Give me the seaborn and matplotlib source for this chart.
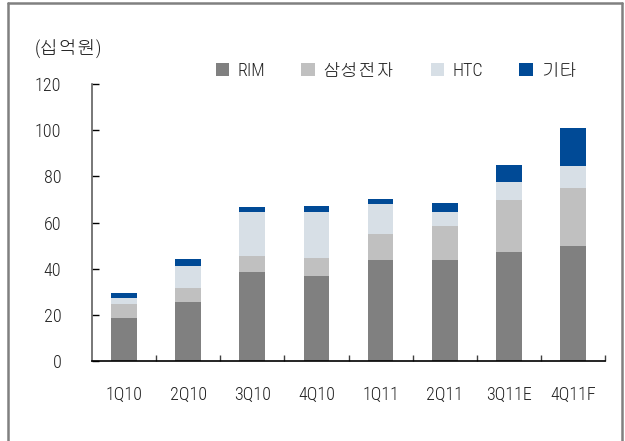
import numpy as np
import pandas as pd
import matplotlib
matplotlib.use("Agg")
import matplotlib.pyplot as plt
from matplotlib.patches import Patch
from matplotlib.lines import Line2D
import seaborn as sns

# data (십억원)
quarters = ["1Q10", "2Q10", "3Q10", "4Q10", "1Q11", "2Q11", "3Q11E", "4Q11F"]
rim = [18.7, 25.5, 38.5, 36.8, 43.7, 43.7, 47.2, 49.8]
samsung = [6.0, 6.1, 7.0, 7.8, 11.3, 14.7, 22.5, 25.1]
htc = [2.6, 9.5, 19.0, 19.9, 13.0, 6.1, 7.8, 9.5]
other = [2.1, 3.1, 2.2, 2.6, 2.1, 3.9, 7.3, 16.5]
series_names = ["RIM", "삼성전자", "HTC", "기타"]
colors = ["#808080", "#c0c0c0", "#d7dfe6", "#004a96"]

df = pd.DataFrame({"quarter": quarters, "RIM": rim, "삼성전자": samsung,
                   "HTC": htc, "기타": other})
# cumulative tops for stacking
cum = df[series_names].cumsum(axis=1)
cum["quarter"] = df["quarter"]

sns.set_style("white")
plt.rcParams["font.family"] = ["Roboto Condensed", "Gulim", "Noto Sans CJK KR", "DejaVu Sans"]
plt.rcParams["font.weight"] = "light"
plt.rcParams["text.color"] = "#222222"
plt.rcParams["xtick.labelcolor"] = "#222222"
plt.rcParams["ytick.labelcolor"] = "#222222"

fig = plt.figure(figsize=(6.25, 4.41), dpi=100)
ax = fig.add_axes([0.1472, 0.1814, 0.8208, 0.6281])

# draw tallest layer first so shorter ones sit on top
for name, col in reversed(list(zip(series_names, colors))):
    sns.barplot(data=cum, x="quarter", y=name, color=col, width=0.4,
                saturation=1, ax=ax, linewidth=0)

ax.set_ylim(0, 120)
ax.set_xlim(-0.5, len(quarters) - 0.5)
ax.set_yticks(range(0, 121, 20))
ax.set_xlabel("")
ax.set_ylabel("")

for s in ["top", "right"]:
    ax.spines[s].set_visible(False)
ax.spines["left"].set_color("#606060")
ax.spines["bottom"].set_color("black")
ax.spines["left"].set_linewidth(1.2)
ax.spines["bottom"].set_linewidth(1.2)

ax.tick_params(axis="y", direction="in", length=5, width=1, color="black",
               labelsize=13, pad=22, left=True)
ax.tick_params(axis="x", which="major", length=0, labelsize=13, pad=18)
ax.set_xticks(np.arange(0.5, len(quarters), 1), minor=True)
ax.tick_params(axis="x", which="minor", direction="in", length=4, width=1,
               color="#404040", bottom=True)

handles = [Patch(facecolor=c, edgecolor="none", label=n)
           for n, c in zip(series_names, colors)]
fig.legend(handles=handles, loc="center left", bbox_to_anchor=(0.345, 0.839),
           ncol=4, frameon=False, fontsize=13, handlelength=0.75,
           handleheight=0.75, handletextpad=0.45, columnspacing=2.0,
           borderpad=0, borderaxespad=0)

fig.text(35 / 625, 1 - 48 / 441, "(십억원)", fontsize=13.5, va="center", ha="left")

# outer gray frame (top, left, right)
for xs, ys in [([8 / 625, 622 / 625], [1 - 3 / 441, 1 - 3 / 441]),
               ([8 / 625, 8 / 625], [0, 1 - 3 / 441]),
               ([622 / 625, 622 / 625], [0, 1 - 3 / 441])]:
    fig.add_artist(Line2D(xs, ys, color="#808080", linewidth=1.8,
                          transform=fig.transFigure))

fig.savefig("out.png", dpi=100)
